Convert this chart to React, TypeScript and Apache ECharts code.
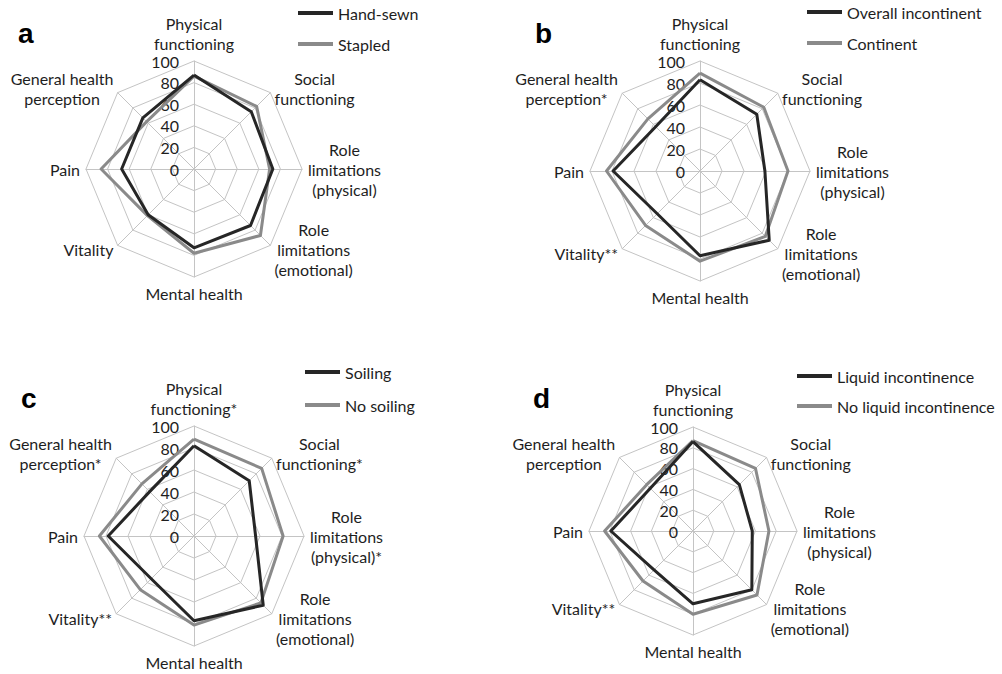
import React, { useEffect, useRef } from "react";
import * as echarts from "echarts";

// Axis (indicator) names, counter-clockwise from the top
const namesA = ["Physical\nfunctioning", "General health\nperception", "Pain", "Vitality", "Mental health", "Role\nlimitations\n(emotional)", "Role\nlimitations\n(physical)", "Social\nfunctioning"];
const namesB = ["Physical\nfunctioning", "General health\nperception*", "Pain", "Vitality**", "Mental health", "Role\nlimitations\n(emotional)", "Role\nlimitations\n(physical)", "Social\nfunctioning"];
const namesC = ["Physical\nfunctioning*", "General health\nperception*", "Pain", "Vitality**", "Mental health", "Role\nlimitations\n(emotional)", "Role\nlimitations\n(physical)*", "Social\nfunctioning*"];
const namesD = ["Physical\nfunctioning", "General health\nperception", "Pain", "Vitality**", "Mental health", "Role\nlimitations\n(emotional)", "Role\nlimitations\n(physical)", "Social\nfunctioning"];

const panelLetters = ["a", "b", "c", "d"];
const seriesNamesA = ["Hand-sewn", "Stapled"];
const seriesNamesB = ["Overall incontinent", "Continent"];
const seriesNamesC = ["Soiling", "No soiling"];
const seriesNamesD = ["Liquid incontinence", "No liquid incontinence"];

// values: [PF, GH, Pain, Vitality, MH, RE, RP, SF]
const handSewn = [87, 67, 67, 60, 73, 74, 73, 75];
const stapled = [86, 62, 86, 61, 78, 87, 70, 82];
const overallIncontinent = [83, 57, 79, 55, 77, 89, 59, 73];
const continent = [89, 67, 85, 70, 82, 84, 80, 82];
const soiling = [82, 57, 78, 55, 77, 89, 56, 71];
const noSoiling = [88, 67, 86, 69, 81, 86, 81, 87];
const liquidIncontinence = [86, 58, 79, 53, 70, 80, 57, 63];
const noLiquidIncontinence = [87, 63, 85, 68, 80, 87, 73, 85];

const axisMax = 100;

const DARK = "#262626";
const GRAY = "#8a8a8a";
const TEXT = "#1e1e1e";
const FONT = "Lato";
const FS = 16;

export default function App() {
  const ref = useRef<HTMLDivElement>(null);
  useEffect(() => {
    if (!ref.current) return;
    const chart = echarts.init(ref.current, undefined, { renderer: "svg" });

    const panels = [
      { names: namesA, center: [194, 169], radius: 108, legend: { left: 298, top: 4, gap: 13 }, title: { left: 18, top: 19 }, sn: seriesNamesA, vals: [handSewn, stapled] },
      { names: namesB, center: [700, 171], radius: 110, legend: { left: 807, top: 3, gap: 13 }, title: { left: 535, top: 19 }, sn: seriesNamesB, vals: [overallIncontinent, continent] },
      { names: namesC, center: [194, 536], radius: 110, legend: { left: 305, top: 363, gap: 15 }, title: { left: 21, top: 384 }, sn: seriesNamesC, vals: [soiling, noSoiling] },
      { names: namesD, center: [693, 531], radius: 104, legend: { left: 797, top: 367, gap: 12 }, title: { left: 533, top: 384 }, sn: seriesNamesD, vals: [liquidIncontinence, noLiquidIncontinence] },
    ];

    const radar = panels.map((p) => ({
      center: p.center,
      radius: p.radius,
      startAngle: 90,
      shape: "polygon",
      splitNumber: 5,
      indicator: p.names.map((n, i) =>
        i === 0
          ? { name: n, min: 0, max: axisMax, axisLabel: { show: true, color: TEXT, fontSize: FS, fontFamily: FONT, margin: 15 } }
          : { name: n, min: 0, max: axisMax }
      ),
      axisNameGap: 6,
      axisName: {
        color: TEXT,
        fontSize: FS,
        fontFamily: FONT,
        lineHeight: 20,
        formatter: (name: string) => name.split("\n").map((s) => "{c|" + s + "}").join("\n"),
        rich: { c: { align: "center", color: TEXT, fontSize: FS, fontFamily: FONT, lineHeight: 20 } },
      },
      splitLine: { lineStyle: { color: "#c4c4c4", width: 1 } },
      splitArea: { show: false },
      axisLine: { lineStyle: { color: "#c4c4c4", width: 1 } },
      axisTick: { show: false },
      axisLabel: { show: false },
    }));

    const series: any[] = [];
    panels.forEach((p, idx) => {
      // gray drawn first, black on top
      [1, 0].forEach((k) => {
        const color = k === 0 ? DARK : GRAY;
        series.push({
          type: "radar",
          name: p.sn[k],
          radarIndex: idx,
          symbol: "none",
          z: k === 0 ? 3 : 2,
          color,
          lineStyle: { color, width: 3 },
          itemStyle: { color },
          data: [{ value: p.vals[k], name: p.sn[k], itemStyle: { color }, lineStyle: { color, width: 3 } }],
        });
      });
    });

    const legend = panels.map((p) => ({
      left: p.legend.left,
      top: p.legend.top,
      orient: "vertical",
      icon: "rect",
      itemWidth: 35,
      itemHeight: 4,
      itemGap: p.legend.gap,
      padding: 0,
      data: p.sn,
      selectedMode: false,
      textStyle: { color: TEXT, fontSize: FS, fontFamily: FONT, lineHeight: 18 },
    }));

    const title = panels.map((p, i) => ({
      text: panelLetters[i],
      left: p.title.left,
      top: p.title.top,
      padding: 0,
      textStyle: { fontSize: 28, fontWeight: "bold", fontFamily: "Liberation Sans", color: "#000" },
    }));

    chart.setOption({
      animation: false,
      backgroundColor: "#ffffff",
      title,
      legend,
      radar,
      series,
    } as any);
    return () => chart.dispose();
  }, []);
  return <div ref={ref} style={{ position: "fixed", left: 0, top: 0, width: 1002, height: 674, background: "#fff" }} />;
}
